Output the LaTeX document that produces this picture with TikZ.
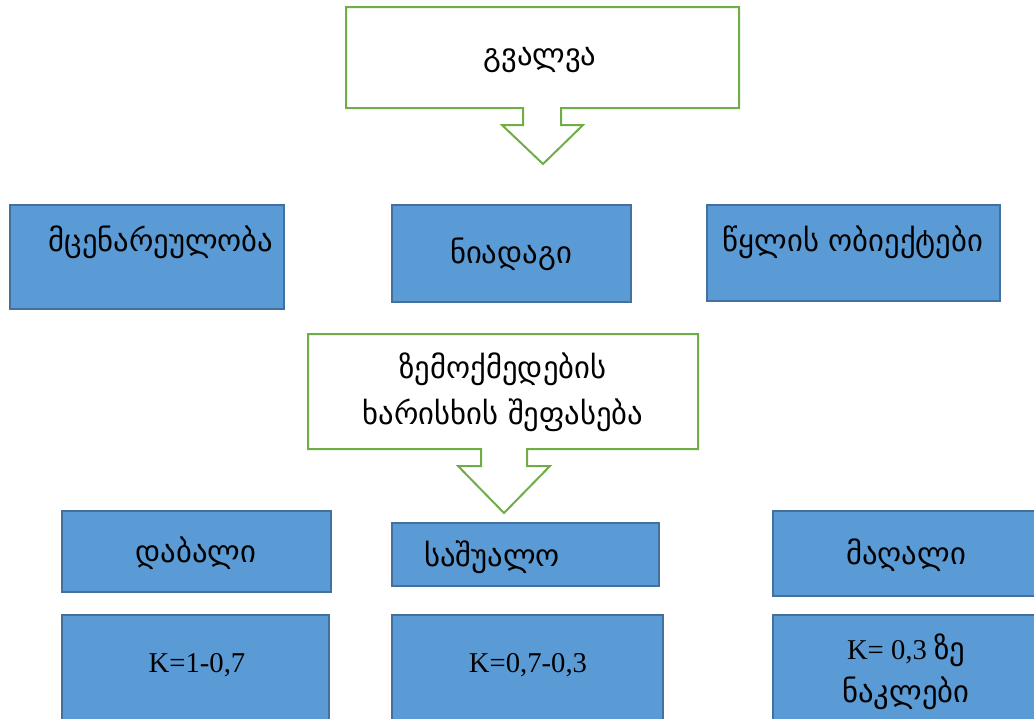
\documentclass[tikz,border=0pt]{standalone}
\usepackage{fontspec}
\setmainfont{Liberation Serif}
\newfontfamily\geo{DejaVu Sans}
\definecolor{boxblue}{RGB}{91,155,213}
\definecolor{boxedge}{RGB}{65,113,156}
\definecolor{callgreen}{RGB}{112,173,71}
\tikzset{
  bluebox/.style={draw=boxedge,fill=boxblue,line width=1.5},
  callout/.style={draw=callgreen,fill=white,line width=1.5,line join=miter},
  lbl/.style={font=\fontsize{21.5}{26}\selectfont,align=center,inner sep=0pt},
  geolbl/.style={font=\geo\fontsize{23}{34.5}\selectfont,align=center,inner sep=0pt}
}
\begin{document}
\begin{tikzpicture}[x=0.75pt,y=0.75pt,yscale=-1,xscale=1]
\useasboundingbox (0,0) rectangle (1034,718);
\clip (0,0) rectangle (1034,718);

%Shape: Down Arrow Callout [id:top]
\draw[callout] (346,7) -- (739,7) -- (739,108) -- (561,108) -- (561,125) -- (583,125) -- (543,164) -- (502,125) -- (523,125) -- (523,108) -- (346,108) -- cycle ;
%Shape: Rectangle
\draw[bluebox] (10,205) rectangle (284,309) ;
%Shape: Rectangle
\draw[bluebox] (392,205) rectangle (631,302) ;
%Shape: Rectangle
\draw[bluebox] (707,205) rectangle (1000,301) ;
%Shape: Down Arrow Callout [id:mid]
\draw[callout] (308,334) -- (698,334) -- (698,449) -- (527,449) -- (527,466) -- (550,466) -- (504,513) -- (458,466) -- (481,466) -- (481,449) -- (308,449) -- cycle ;
%Shape: Rectangle
\draw[bluebox] (62,511) rectangle (331,592) ;
%Shape: Rectangle
\draw[bluebox] (392,523) rectangle (659,586) ;
%Shape: Rectangle
\draw[bluebox] (773,511) rectangle (1040,596) ;
%Shape: Rectangle
\draw[bluebox] (62,615) rectangle (329,725) ;
%Shape: Rectangle
\draw[bluebox] (392,615) rectangle (663,725) ;
%Shape: Rectangle
\draw[bluebox] (773,615) rectangle (1040,725) ;

% Text Node
\node[geolbl] (gvalva) at (540,60) {გვალვა};
% Text Node
\node[geolbl] (mcenare) at (161,242) {მცენარეულობა};
% Text Node
\node[geolbl] (niadagi) at (511,254) {ნიადაგი};
% Text Node
\node[geolbl] (tsqali) at (853,242) {წყლის ობიექტები};
% Text Node
\node[geolbl] (shefaseba) at (503,392) {ზემოქმედების\\ხარისხის შეფასება};
% Text Node
\node[geolbl] (dabali) at (196,553) {დაბალი};
% Text Node
\node[geolbl] (sashualo) at (492,557) {საშუალო};
% Text Node
\node[geolbl] (maghali) at (906,555) {მაღალი};
% Text Node
\node[lbl] (kdabali) at (197,665) {K=1-0,7};
% Text Node
\node[lbl] (ksashualo) at (528,665) {K=0,7-0,3};
% Text Node
\node[lbl] (kmaghali) at (906,672) {K= 0,3 {\geo\fontsize{23}{26}\selectfont ზე}\\[6pt]{\geo\fontsize{23}{26}\selectfont ნაკლები}};

\end{tikzpicture}
\end{document}
